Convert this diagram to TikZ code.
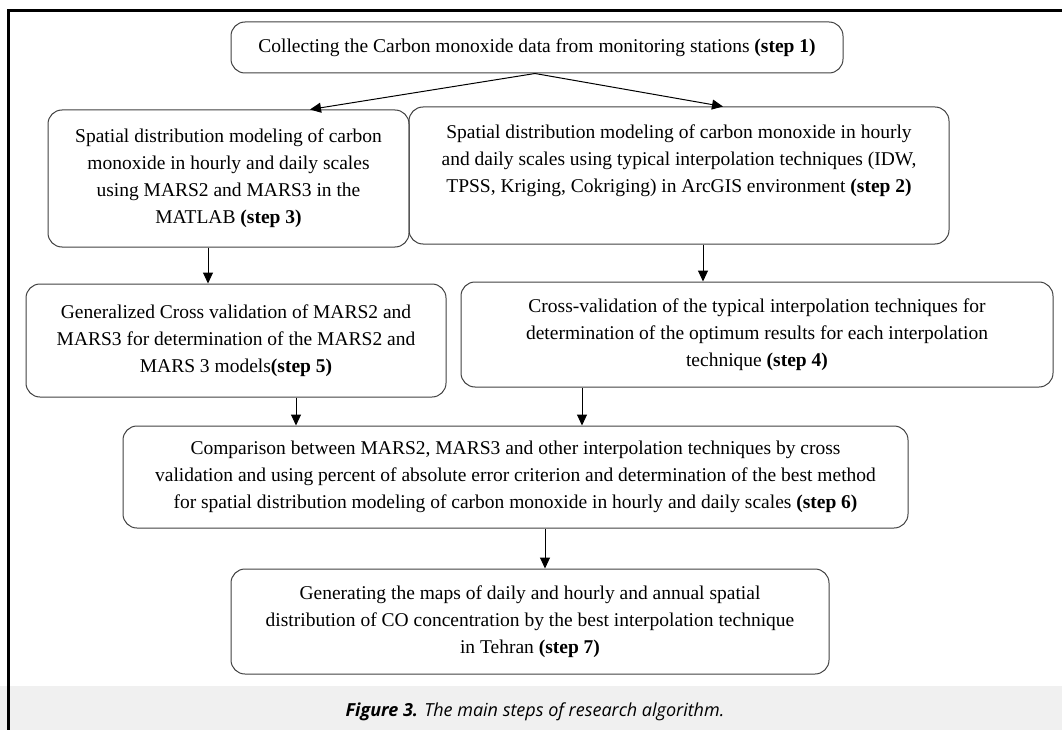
\documentclass[tikz,border=0pt]{standalone}
\usepackage{fontspec}
\setmainfont{Liberation Serif}
\newfontfamily\capfont{Open Sans}
\usetikzlibrary{positioning,arrows.meta,backgrounds}

\tikzset{
  stepbox/.style={draw=black!75,line width=1pt,rounded corners=14pt,
    align=center,inner sep=0pt,font=\fontsize{19.5}{27}\selectfont},
  flow/.style={-{Triangle[width=10pt,length=11pt]},line width=1pt}
}

\begin{document}
\begin{tikzpicture}[x=1pt,y=-1pt]
\useasboundingbox (0,0) rectangle (1062,730);
\fill[black!6] (0,686) rectangle (1062,730);
\draw[line width=3pt] (8,730) -- (8,11) -- (1062,11);

\node[stepbox,minimum width=612pt,minimum height=51pt] (collect) at (537,47.5)
  {Collecting the Carbon monoxide data from monitoring stations \textbf{(step 1)}};
\node[stepbox,minimum width=361pt,minimum height=137pt] (mars) at (228.5,178.5)
  {Spatial distribution modeling of carbon\\ monoxide in hourly and daily scales\\
   using MARS2 and MARS3 in the\\ MATLAB \textbf{(step 3)}};
\node[stepbox,minimum width=540pt,minimum height=137pt] (arcgis) at (679,175.5)
  {Spatial distribution modeling of carbon monoxide in hourly\\
   and daily scales using typical interpolation techniques (IDW,\\
   TPSS, Kriging, Cokriging) in ArcGIS environment \textbf{(step 2)}\\[6pt] \mbox{}};
\node[stepbox,minimum width=420pt,minimum height=113pt] (gcv) at (236,340.5)
  {Generalized Cross validation of MARS2 and\\
   MARS3 for determination of the MARS2 and\\ MARS 3 models\textbf{(step 5)}};
\node[stepbox,minimum width=592pt,minimum height=105pt] (cv) at (757,334.5)
  {Cross-validation of the typical interpolation techniques for\\
   determination of the optimum results for each interpolation\\
   technique \textbf{(step 4)}};
\node[stepbox,minimum width=785pt,minimum height=102pt] (compare) at (515.5,477)
  {Comparison between MARS2, MARS3 and other interpolation techniques by cross\\
   validation and using percent of absolute error criterion and determination of the best method\\
   for spatial distribution modeling of carbon monoxide in hourly and daily scales \textbf{(step 6)}};
\node[stepbox,minimum width=598pt,minimum height=105pt] (maps) at (530,621.5)
  {Generating the maps of daily and hourly and annual spatial\\
   distribution of CO concentration by the best interpolation technique\\
   in Tehran \textbf{(step 7)}};

\node[font=\capfont\fontsize{18}{20}\selectfont\itshape] (caption) at (535,712)
  {\textbf{Figure 3.} The main steps of research algorithm.};

% arrows
\draw[flow] ([xshift=-2pt]collect.south) -- ([xshift=81.5pt]mars.north);
\draw[flow] ([xshift=-2pt]collect.south) -- ([xshift=44pt]arcgis.north);
\coordinate (a3) at ([xshift=-20.5pt]mars.south);
\coordinate (a2) at ([xshift=24pt]arcgis.south);
\coordinate (a5) at ([xshift=60pt]gcv.south);
\coordinate (a4) at ([xshift=-175pt]cv.south);
\coordinate (a6) at ([xshift=29.5pt]compare.south);
\draw[flow] (a3) -- (a3 |- gcv.north);
\draw[flow] (a2) -- (a2 |- cv.north);
\draw[flow] (a5) -- (a5 |- compare.north);
\draw[flow] (a4) -- (a4 |- compare.north);
\draw[flow] (a6) -- (a6 |- maps.north);
\end{tikzpicture}
\end{document}
